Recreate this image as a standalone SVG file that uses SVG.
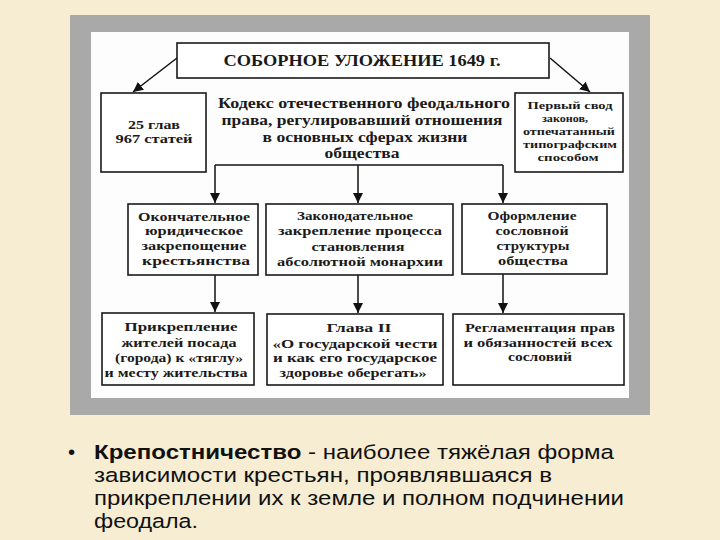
<svg xmlns="http://www.w3.org/2000/svg" width="720" height="540" viewBox="0 0 720 540">
<defs>
<marker id="ah" viewBox="0 0 10 10" refX="10" refY="5" markerWidth="10" markerHeight="10" markerUnits="userSpaceOnUse" orient="auto">
<path d="M0,0 L10,5 L0,10 Z" fill="#111"/>
</marker>
</defs>
<style>
.box{fill:#fff;stroke:#1a1a1a;stroke-width:1.6}
.t{font-family:"Liberation Serif","Times New Roman",serif;font-weight:bold;fill:#1a1a1a;text-anchor:middle}
.m{font-size:13px}
.s{font-size:11px}
.c{font-family:"Liberation Serif","Times New Roman",serif;font-size:15px;fill:#1a1a1a;text-anchor:middle;font-weight:bold}
.ln{stroke:#111;stroke-width:1.5;fill:none}
.b{font-family:"Liberation Sans",Arial,sans-serif;font-size:20.5px;fill:#111}
</style>
<rect x="0" y="0" width="720" height="540" fill="#f6edd3"/>
<rect x="70" y="15" width="580" height="400" fill="#a9a9a9"/>
<rect x="91" y="32" width="538" height="366" fill="#fdfdfd"/>

<g id="connectors">
<line class="ln" x1="177" y1="58" x2="133" y2="92" marker-end="url(#ah)"/>
<line class="ln" x1="550" y1="58" x2="590" y2="92" marker-end="url(#ah)"/>
<polyline class="ln" points="215,165 503,165"/>
<line class="ln" x1="215" y1="165" x2="215" y2="203" marker-end="url(#ah)"/>
<line class="ln" x1="358" y1="165" x2="358" y2="203" marker-end="url(#ah)"/>
<line class="ln" x1="503" y1="165" x2="503" y2="203" marker-end="url(#ah)"/>
<line class="ln" x1="215" y1="275" x2="215" y2="312" marker-end="url(#ah)"/>
<line class="ln" x1="358" y1="275" x2="358" y2="313" marker-end="url(#ah)"/>
<line class="ln" x1="503" y1="274" x2="503" y2="313" marker-end="url(#ah)"/>
</g>

<g id="title">
<rect class="box" x="177" y="43" width="372" height="35"/>
<text class="t" x="362" y="66" font-size="17" textLength="277" lengthAdjust="spacingAndGlyphs">СОБОРНОЕ УЛОЖЕНИЕ 1649 г.</text>
</g>

<g id="chapters">
<rect class="box" x="101" y="93" width="105" height="79"/>
<text class="t m" x="154" y="129" textLength="52" lengthAdjust="spacingAndGlyphs">25 глав</text>
<text class="t m" x="154" y="143" textLength="77" lengthAdjust="spacingAndGlyphs">967 статей</text>
</g>

<g id="first-code">
<rect class="box" x="515" y="93" width="108" height="79"/>
<text class="t s" x="570" y="109" textLength="85" lengthAdjust="spacingAndGlyphs">Первый свод</text>
<text class="t s" x="565" y="122" textLength="46" lengthAdjust="spacingAndGlyphs">законов,</text>
<text class="t s" x="569" y="135" textLength="92" lengthAdjust="spacingAndGlyphs">отпечатанный</text>
<text class="t s" x="570" y="148" textLength="94" lengthAdjust="spacingAndGlyphs">типографским</text>
<text class="t s" x="568" y="161" textLength="61" lengthAdjust="spacingAndGlyphs">способом</text>
</g>

<g id="codex">
<text class="c" x="364" y="108" textLength="292" lengthAdjust="spacingAndGlyphs">Кодекс отечественного феодального</text>
<text class="c" x="362" y="125" textLength="281" lengthAdjust="spacingAndGlyphs">права, регулировавший отношения</text>
<text class="c" x="365" y="142" textLength="205" lengthAdjust="spacingAndGlyphs">в основных сферах жизни</text>
<text class="c" x="362" y="158" textLength="75" lengthAdjust="spacingAndGlyphs">общества</text>
</g>

<g id="enserfment">
<rect class="box" x="128" y="204" width="130" height="71"/>
<text class="t m" x="194" y="221" textLength="112" lengthAdjust="spacingAndGlyphs">Окончательное</text>
<text class="t m" x="194" y="235" textLength="98" lengthAdjust="spacingAndGlyphs">юридическое</text>
<text class="t m" x="194" y="250" textLength="105" lengthAdjust="spacingAndGlyphs">закрепощение</text>
<text class="t m" x="196" y="265" textLength="108" lengthAdjust="spacingAndGlyphs">крестьянства</text>
</g>

<g id="absolutism">
<rect class="box" x="266" y="204" width="187" height="71"/>
<text class="t m" x="355" y="220" textLength="116" lengthAdjust="spacingAndGlyphs">Законодательное</text>
<text class="t m" x="360" y="235" textLength="164" lengthAdjust="spacingAndGlyphs">закрепление процесса</text>
<text class="t m" x="358" y="251" textLength="93" lengthAdjust="spacingAndGlyphs">становления</text>
<text class="t m" x="360" y="266" textLength="166" lengthAdjust="spacingAndGlyphs">абсолютной монархии</text>
</g>

<g id="estates">
<rect class="box" x="462" y="204" width="145" height="70"/>
<text class="t m" x="532" y="220" textLength="89" lengthAdjust="spacingAndGlyphs">Оформление</text>
<text class="t m" x="532" y="235" textLength="73" lengthAdjust="spacingAndGlyphs">сословной</text>
<text class="t m" x="533" y="250" textLength="73" lengthAdjust="spacingAndGlyphs">структуры</text>
<text class="t m" x="533" y="265" textLength="70" lengthAdjust="spacingAndGlyphs">общества</text>
</g>

<g id="posad">
<rect class="box" x="102" y="313" width="152" height="72"/>
<text class="t m" x="181" y="331" textLength="113" lengthAdjust="spacingAndGlyphs">Прикрепление</text>
<text class="t m" x="179" y="347" textLength="115" lengthAdjust="spacingAndGlyphs">жителей посада</text>
<text class="t m" x="179" y="362" textLength="128" lengthAdjust="spacingAndGlyphs">(города) к «тяглу»</text>
<text class="t m" x="176" y="377" textLength="143" lengthAdjust="spacingAndGlyphs">и месту жительства</text>
</g>

<g id="chapter2">
<rect class="box" x="267" y="314" width="176" height="71"/>
<text class="t m" x="359" y="332" textLength="65" lengthAdjust="spacingAndGlyphs">Глава II</text>
<text class="t m" x="355" y="348" textLength="165" lengthAdjust="spacingAndGlyphs">«О государской чести</text>
<text class="t m" x="355" y="362" textLength="164" lengthAdjust="spacingAndGlyphs">и как его государское</text>
<text class="t m" x="353" y="377" textLength="147" lengthAdjust="spacingAndGlyphs">здоровье оберегать»</text>
</g>

<g id="rights">
<rect class="box" x="453" y="314" width="171" height="71"/>
<text class="t m" x="540" y="332" textLength="150" lengthAdjust="spacingAndGlyphs">Регламентация прав</text>
<text class="t m" x="538" y="347" textLength="149" lengthAdjust="spacingAndGlyphs">и обязанностей всех</text>
<text class="t m" x="540" y="361" textLength="64" lengthAdjust="spacingAndGlyphs">сословий</text>
</g>

<g id="definition">
<text class="b" x="68" y="459">•</text>
<text class="b" x="94" y="459" textLength="520" lengthAdjust="spacingAndGlyphs"><tspan font-weight="bold">Крепостничество</tspan> - наиболее тяжёлая форма</text>
<text class="b" x="94" y="482" textLength="458" lengthAdjust="spacingAndGlyphs">зависимости крестьян, проявлявшаяся в</text>
<text class="b" x="94" y="505" textLength="530" lengthAdjust="spacingAndGlyphs">прикреплении их к земле и полном подчинении</text>
<text class="b" x="94" y="528" textLength="104" lengthAdjust="spacingAndGlyphs">феодала.</text>
</g>
</svg>
